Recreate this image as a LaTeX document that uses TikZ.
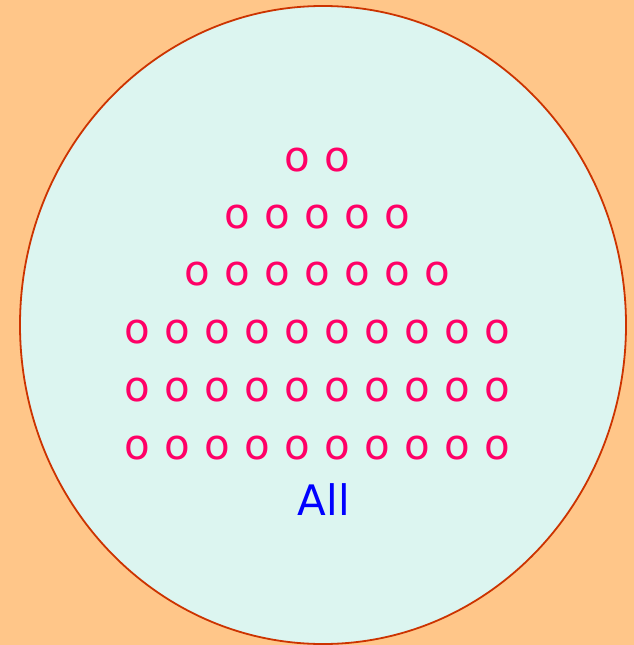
\documentclass[tikz,border=0pt]{standalone}
\usepackage{fontspec}
\setmainfont{DejaVu Sans}
\usetikzlibrary{shapes.geometric}

\definecolor{bgorange}{HTML}{FFC689}
\definecolor{fieldcyan}{HTML}{DCF5F0}
\definecolor{rimred}{HTML}{CC3300}
\definecolor{dotpink}{HTML}{FF0066}

\begin{document}
\begin{tikzpicture}[
        x=1bp, y=-1bp,
        field/.style={ellipse, draw=rimred, fill=fieldcyan, line width=1.8bp,
                      minimum width=606bp, minimum height=638bp, inner sep=0pt},
        letter/.style={text=dotpink, inner sep=0pt, font=\fontsize{42bp}{50bp}\selectfont},
        caption/.style={text=blue, inner sep=0pt, anchor=base, font=\fontsize{42bp}{50bp}\selectfont}
    ]
        % Background
        \fill[bgorange] (0,0) rectangle (634,645);
        \useasboundingbox (0,0) rectangle (634,645);

        % Ellipse
        \node[field] (rim) at (323,325) {};

        % Rows of o
        \foreach \n/\y [count=\r] in {2/160, 5/217, 7/274, 10/332, 10/390, 10/448}
            \foreach \c in {1,...,\n}
                \node[letter] (o-\r-\c) at ({317+(\c-(\n+1)/2)*40}, \y) {o};

        % Label
        \node[caption] (all) at (324,515) {All};
    \end{tikzpicture}
\end{document}
